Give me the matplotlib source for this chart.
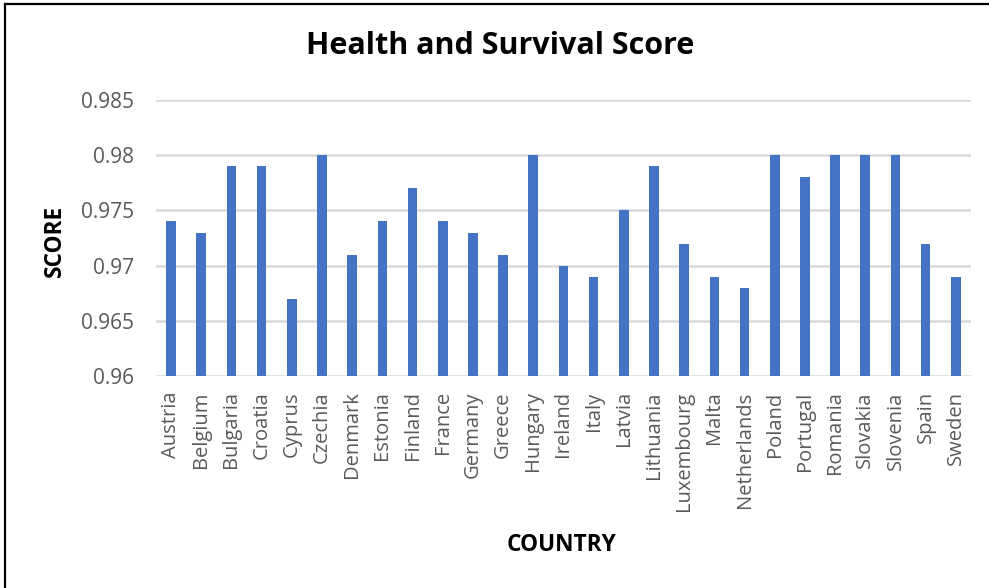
import matplotlib.pyplot as plt
from matplotlib.lines import Line2D

countries = ["Austria", "Belgium", "Bulgaria", "Croatia", "Cyprus", "Czechia",
             "Denmark", "Estonia", "Finland", "France", "Germany", "Greece",
             "Hungary", "Ireland", "Italy", "Latvia", "Lithuania", "Luxembourg",
             "Malta", "Netherlands", "Poland", "Portugal", "Romania", "Slovakia",
             "Slovenia", "Spain", "Sweden"]
scores = [0.974, 0.973, 0.979, 0.979, 0.967, 0.980,
          0.971, 0.974, 0.977, 0.974, 0.973, 0.971,
          0.980, 0.970, 0.969, 0.975, 0.979, 0.972,
          0.969, 0.968, 0.980, 0.978, 0.980, 0.980,
          0.980, 0.972, 0.969]
yticks = [0.96, 0.965, 0.97, 0.975, 0.98, 0.985]
ytick_labels = ["0.96", "0.965", "0.97", "0.975", "0.98", "0.985"]

plt.rcParams['font.family'] = ['Open Sans', 'DejaVu Sans']

fig = plt.figure(figsize=(9.89, 5.88), dpi=100)
ax = fig.add_axes([0.1577, 0.3605, 0.824, 0.4694])

x = range(len(countries))
ax.bar(x, scores, width=0.32, color="#4472C4", zorder=3)
ax.set_ylim(0.96, 0.985)
ax.set_xlim(-0.5, len(countries) - 0.5)
ax.set_yticks(yticks)
ax.set_yticklabels(ytick_labels, fontsize=15)
ax.set_xticks(list(x))
ax.set_xticklabels(countries, rotation=90, fontsize=14.5)
ax.tick_params(axis='both', length=0, labelcolor="#595959")
ax.tick_params(axis='y', pad=16)
ax.tick_params(axis='x', pad=11)
ax.grid(axis='y', color="#d9d9d9", linewidth=1.8, zorder=0)
for s in ax.spines.values():
    s.set_visible(False)

fig.text(0.506, 0.922, "Health and Survival Score", ha="center", va="center",
         fontsize=22, fontweight="bold", color="black")
fig.text(0.056, 0.59, "SCORE", ha="center", va="center", rotation=90,
         fontsize=16.3, fontweight="bold", color="black")
fig.text(0.568, 0.073, "COUNTRY", ha="center", va="center",
         fontsize=16.3, fontweight="bold", color="black")

# frame lines on left and top like the screenshot
fig.add_artist(Line2D([0.0055, 0.0055], [0, 0.994], color="black", lw=1.6,
                      transform=fig.transFigure))
fig.add_artist(Line2D([0.0055, 1], [0.994, 0.994], color="black", lw=1.6,
                      transform=fig.transFigure))

fig.savefig("out.png", dpi=100)
